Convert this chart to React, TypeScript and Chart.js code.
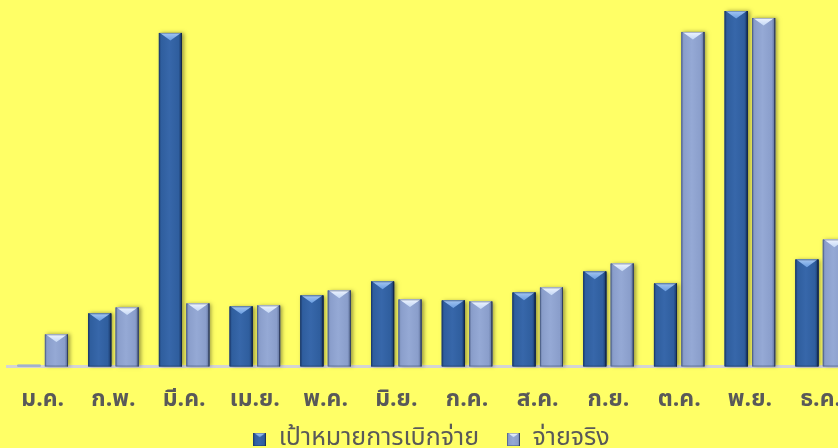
import React, { useEffect, useRef } from 'react';
import { Chart, registerables } from 'chart.js';

Chart.register(...registerables);

const months = ['ม.ค.', 'ก.พ.', 'มี.ค.', 'เม.ย.', 'พ.ค.', 'มิ.ย.', 'ก.ค.', 'ส.ค.', 'ก.ย.', 'ต.ค.', 'พ.ย.', 'ธ.ค.'];
const targetValues = [1, 53, 334, 60, 71, 85, 66, 74, 95, 83, 356, 107];
const actualValues = [32, 59, 63, 61, 76, 67, 65, 79, 103, 335, 349, 127];
const seriesNames = ['เป้าหมายการเบิกจ่าย', 'จ่ายจริง'];
const yMax = 360;

const FONT = "Tahoma, 'Noto Sans Thai', 'Noto Sans', sans-serif";

const STYLES = [
  { main: '#2F5E9E', light: '#3767AA', edge: '#1F4276', dark: '#14284A', top: '#6A9DE0', topEdge: '#A3C6F2' },
  { main: '#8A9ECB', light: '#95A9D5', edge: '#6A7DA8', dark: '#3E4A66', top: '#C5D8F5', topEdge: '#EEF4FF' },
];

function drawBevel(ctx: CanvasRenderingContext2D, left: number, top: number, w: number, h: number, s: any, shadow: boolean) {
  const right = left + w;
  const cx = left + w / 2;
  if (shadow && h > 1.5) {
    ctx.save();
    ctx.shadowColor = 'rgba(0,0,0,0.4)';
    ctx.shadowBlur = 4;
    ctx.shadowOffsetX = 2;
    ctx.shadowOffsetY = 0;
    ctx.fillStyle = s.edge;
    ctx.fillRect(left, top, w, h);
    ctx.restore();
  }
  if (h <= 1.5) {
    ctx.fillStyle = '#9FB0CF';
    ctx.fillRect(left, top - 1, w, 2);
    return;
  }
  const g = ctx.createLinearGradient(left, 0, right, 0);
  g.addColorStop(0, s.edge);
  g.addColorStop(0.1, s.main);
  g.addColorStop(0.45, s.light);
  g.addColorStop(0.85, s.main);
  g.addColorStop(0.95, s.edge);
  g.addColorStop(1, s.dark);
  ctx.fillStyle = g;
  ctx.fillRect(left, top, w, h);
  const bh = Math.min(w * 0.33, h);
  const tg = ctx.createLinearGradient(0, top, 0, top + bh);
  tg.addColorStop(0, s.topEdge);
  tg.addColorStop(1, s.top);
  ctx.fillStyle = tg;
  ctx.beginPath();
  ctx.moveTo(left + 1, top);
  ctx.lineTo(right - 1, top);
  ctx.lineTo(cx, top + bh);
  ctx.closePath();
  ctx.fill();
  ctx.fillStyle = s.dark;
  ctx.fillRect(right - 1, top, 1, h);
  ctx.strokeStyle = 'rgba(20,40,80,0.3)';
  ctx.lineWidth = 1;
  ctx.strokeRect(left + 0.5, top + 0.5, w - 1, h - 1);
}

function makeIcon(s: any): HTMLCanvasElement {
  const c = document.createElement('canvas');
  c.width = 13;
  c.height = 13;
  const ctx = c.getContext('2d') as CanvasRenderingContext2D;
  drawBevel(ctx, 0, 0, 13, 13, s, false);
  return c;
}

const bevelPlugin = {
  id: 'bevelBars',
  afterLayout(chart: any) {
    const lg = chart.legend;
    if (lg) {
      lg.top -= 37;
      lg.bottom -= 37;
    }
  },
  afterDatasetDraw(chart: any, args: any) {
    const meta = chart.getDatasetMeta(args.index);
    const s = STYLES[args.index];
    const ctx = chart.ctx as CanvasRenderingContext2D;
    ctx.save();
    meta.data.forEach((el: any) => {
      const p = el.getProps(['x', 'y', 'base', 'width'], true);
      const left = p.x - p.width / 2;
      const top = Math.min(p.y, p.base);
      const h = Math.abs(p.base - p.y);
      drawBevel(ctx, left, top, p.width, h, s, true);
    });
    ctx.restore();
  },
};

export default function App() {
  const ref = useRef<HTMLCanvasElement | null>(null);
  useEffect(() => {
    if (!ref.current) return;
    const icons = STYLES.map(makeIcon);
    const chart = new Chart(ref.current, {
      type: 'bar',
      data: {
        labels: months,
        datasets: [
          { label: seriesNames[0], data: targetValues, backgroundColor: STYLES[0].main },
          { label: seriesNames[1], data: actualValues, backgroundColor: STYLES[1].main },
        ],
      },
      options: {
        animation: false,
        responsive: true,
        maintainAspectRatio: false,
        datasets: { bar: { categoryPercentage: 0.776, barPercentage: 0.84 } },
        layout: { padding: { left: 7, right: 16, top: 7, bottom: 0 } },
        scales: {
          x: {
            grid: { display: false, drawTicks: false },
            border: { display: true, color: '#D4D4D4', width: 3 },
            ticks: { color: '#595959', font: { family: FONT, size: 23, weight: 'bold' }, padding: 21, maxRotation: 0 },
          },
          y: { display: false, min: 0, max: yMax },
        },
        plugins: {
          tooltip: { enabled: false },
          legend: {
            position: 'bottom',
            labels: {
              color: '#595959',
              font: { family: FONT, size: 25 },
              boxWidth: 13,
              boxHeight: 13,
              padding: 28,
              usePointStyle: true,
              generateLabels: (c: any) =>
                c.data.datasets.map((d: any, i: number) => ({
                  text: d.label,
                  fillStyle: STYLES[i].main,
                  strokeStyle: STYLES[i].edge,
                  lineWidth: 0,
                  pointStyle: icons[i],
                  fontColor: '#595959',
                  hidden: false,
                  datasetIndex: i,
                })),
            },
          },
        },
      },
      plugins: [bevelPlugin],
    } as any);
    return () => chart.destroy();
  }, []);
  return (
    <div style={{ position: 'fixed', left: 0, top: 0, width: 838, height: 448, overflow: 'hidden', background: '#FFFF66' }}>
      <div style={{ position: 'relative', width: 872, height: 499 }}>
        <canvas ref={ref} />
      </div>
    </div>
  );
}
